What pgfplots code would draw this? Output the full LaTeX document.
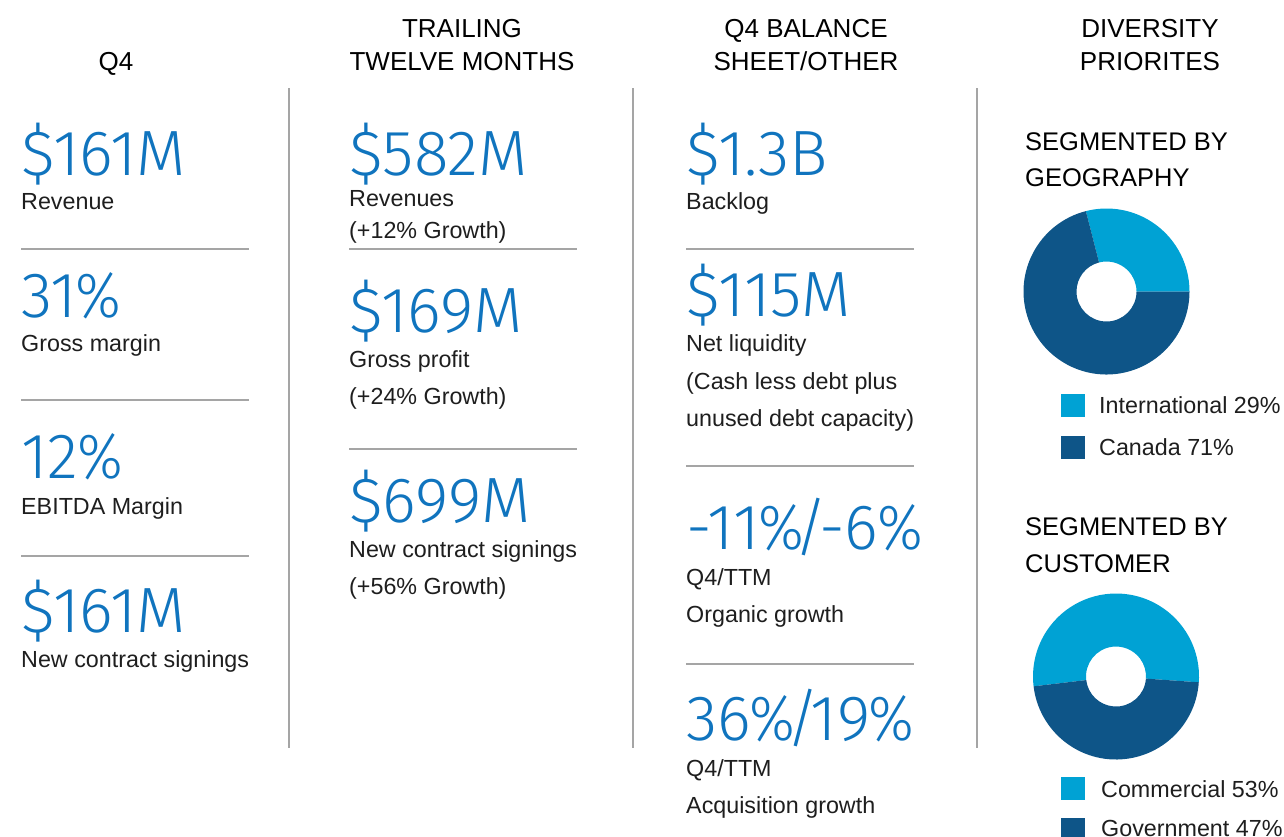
\documentclass[border=0pt]{standalone}
\usepackage{fontspec}
\setmainfont{Liberation Sans}
\newfontfamily\numfont{Fira Sans Light}
\usepackage{pgfplots}
\pgfplotsset{compat=1.18}
\usetikzlibrary{calc}
\definecolor{numBlue}{RGB}{16,116,190}
\definecolor{segLight}{RGB}{0,162,212}
\definecolor{segDark}{RGB}{14,85,136}
\definecolor{ruleGray}{RGB}{165,165,165}
\definecolor{ink}{RGB}{30,30,30}

% donut slice: start angle, share (percent), colour
\def\Rout{83pt}\def\Rin{30pt}
\newcommand\donutslice[3]{%
  \pgfmathsetmacro\sA{#1}\pgfmathsetmacro\sB{#1+3.6*#2}%
  \fill[#3] ($(axis cs:0,0)+(\sA:\Rout)$) arc[start angle=\sA,end angle=\sB,radius=\Rout]
    -- ($(axis cs:0,0)+(\sB:\Rin)$) arc[start angle=\sB,end angle=\sA,radius=\Rin] -- cycle;}
\newcommand\slsh{\kern-0.14em/\kern-0.14em}
\newcommand\pct{\kern-0.02em\scalebox{0.9}[1]{\%}}

\begin{document}
\begin{tikzpicture}[x=1pt,y=1pt,
  num/.style={anchor=base west,inner sep=0pt,text=numBlue,font=\numfont\fontsize{64}{64}\selectfont},
  lab/.style={anchor=base west,inner sep=0pt,text=ink,font=\fontsize{23.3}{24}\selectfont},
  hdr/.style={anchor=base,inner sep=0pt,text=black,font=\fontsize{26}{28}\selectfont},
  sub/.style={anchor=base west,inner sep=0pt,text=black,font=\fontsize{25.5}{28}\selectfont}]
\path[use as bounding box] (0,0) rectangle (1284,-836);
\coordinate (geo) at (1106.5,-291.5);
\coordinate (cus) at (1116,-676.5);

% headers
\node[hdr] at (116,-70) {Q4};
\node[hdr] at (462,-37) {TRAILING};
\node[hdr] at (462,-70) {TWELVE MONTHS};
\node[hdr] at (806,-37) {Q4 BALANCE};
\node[hdr] at (806,-70) {SHEET/OTHER};
\node[hdr] at (1150,-37) {DIVERSITY};
\node[hdr] at (1150,-70) {PRIORITES};

% dividers
\foreach \x in {289,633,977} \draw[ruleGray,line width=1.8pt] (\x,-88) -- (\x,-748);
\foreach \y in {249,400,556} \draw[ruleGray,line width=1.2pt] (21,-\y) -- (249,-\y);
\foreach \y in {249,449} \draw[ruleGray,line width=1.2pt] (349,-\y) -- (577,-\y);
\foreach \y in {249,466,664} \draw[ruleGray,line width=1.2pt] (686,-\y) -- (914,-\y);

% column 1
\node[num] at (21,-175) {\$161M};
\node[lab] at (21,-209) {Revenue};
\node[num] at (21,-317) {31\pct};
\node[lab] at (21,-351) {Gross margin};
\node[num] at (21,-478) {12\pct};
\node[lab] at (21,-514) {EBITDA Margin};
\node[num] at (21,-632) {\$161M};
\node[lab] at (21,-667) {New contract signings};

% column 2
\node[num] at (349,-175) {\$582M};
\node[lab] at (349,-206) {Revenues};
\node[lab] at (349,-238) {(+12\% Growth)};
\node[num] at (349,-332) {\$169M};
\node[lab] at (349,-367) {Gross profit};
\node[lab] at (349,-404) {(+24\% Growth)};
\node[num] at (349,-522) {\$699M};
\node[lab] at (349,-557) {New contract signings};
\node[lab] at (349,-594) {(+56\% Growth)};

% column 3
\node[num] at (686,-175) {\$1.3B};
\node[lab] at (686,-209) {Backlog};
\node[num] at (686,-316) {\$115M};
\node[lab] at (686,-351) {Net liquidity};
\node[lab] at (686,-389) {(Cash less debt plus};
\node[lab] at (686,-426) {unused debt capacity)};
\node[num] at (686,-549) {-11\pct\slsh-6\pct};
\node[lab] at (686,-585) {Q4/TTM};
\node[lab] at (686,-622) {Organic growth};
\node[num] at (686,-740) {36\pct\slsh19\pct};
\node[lab] at (686,-776) {Q4/TTM};
\node[lab] at (686,-813) {Acquisition growth};

% column 4
\node[sub] at (1025,-150) {SEGMENTED BY};
\node[sub] at (1025,-186) {GEOGRAPHY};
\node[sub] at (1025,-535) {SEGMENTED BY};
\node[sub] at (1025,-572) {CUSTOMER};

\begin{axis}[at={(geo)},anchor=center,width=170pt,height=170pt,scale only axis,
  hide axis,xmin=-1,xmax=1,ymin=-1,ymax=1]
\pgfplotsextra{\donutslice{0}{29}{segLight}\donutslice{104.4}{71}{segDark}}
\end{axis}
\begin{axis}[at={(cus)},anchor=center,width=170pt,height=170pt,scale only axis,
  hide axis,xmin=-1,xmax=1,ymin=-1,ymax=1]
\pgfplotsextra{\donutslice{-4}{53}{segLight}\donutslice{186.8}{47}{segDark}}
\end{axis}

% legends
\fill[segLight] (1061,-394) rectangle (1085,-417);
\node[lab] at (1099,-413) {International 29\%};
\fill[segDark] (1061,-436) rectangle (1085,-459);
\node[lab] at (1099,-455) {Canada 71\%};
\fill[segLight] (1061,-777) rectangle (1085,-800);
\node[lab] at (1101,-797) {Commercial 53\%};
\fill[segDark] (1061,-818) rectangle (1085,-841);
\node[lab] at (1101,-836) {Government 47\%};
\end{tikzpicture}
\end{document}
